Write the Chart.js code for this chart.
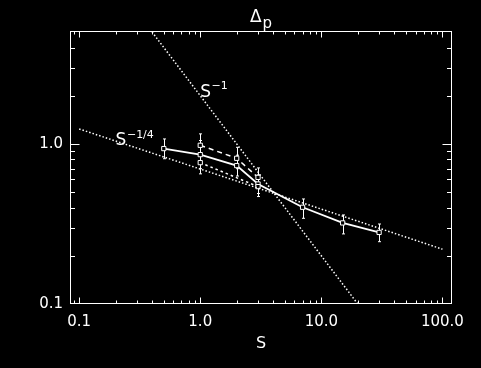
<!DOCTYPE html>
<html><head><meta charset="utf-8">
<script src="https://cdn.jsdelivr.net/npm/chart.js@4/dist/chart.umd.min.js"></script>
<style>html,body{margin:0;padding:0;background:#000;}canvas{display:block;}</style>
</head><body>
<canvas id="c" width="481" height="368"></canvas>
<script>
// ---- data ----
const sAll = [0.5, 1, 2, 3, 7, 15, 30];
const deltaAll = [0.935, 0.857, 0.732, 0.562, 0.402, 0.321, 0.280];
const deltaAllLo = [0.808, 0.70, 0.63, 0.49, 0.343, 0.274, 0.245];
const deltaAllHi = [1.074, 1.05, 0.85, 0.64, 0.453, 0.360, 0.316];

const sUpper = [1, 2, 3];
const deltaUpper = [0.98, 0.813, 0.618];
const deltaUpperLo = [0.86, 0.70, 0.53];
const deltaUpperHi = [1.155, 0.952, 0.708];

const sLower = [1, 3];
const deltaLower = [0.764, 0.541];
const deltaLowerLo = [0.65, 0.469];
const deltaLowerHi = [0.88, 0.62];

const sSlope1 = [0.4, 20];
const deltaSlope1 = [5.0, 0.1];
const sSlopeQ = [0.1, 100];
const deltaSlopeQ = [1.24, 0.22];

const xMajorTicks = [0.1, 1, 10, 100];
const xTickLabels = ['0.1', '1.0', '10.0', '100.0'];
const xMinorTicks = [0.09, 0.2, 0.3, 0.4, 0.5, 0.6, 0.7, 0.8, 0.9, 2, 3, 4, 5, 6, 7, 8, 9, 20, 30, 40, 50, 60, 70, 80, 90];
const yMajorTicks = [0.1, 1];
const yTickLabels = ['0.1', '1.0'];
const yMinorTicks = [0.2, 0.3, 0.4, 0.5, 0.6, 0.7, 0.8, 0.9, 2, 3, 4];

const titleMain = 'Δ';
const titleSub = 'p';
const xTitle = 'S';
const annotSlope1 = {base: 'S', sup: '−1', s: 1.0, d: 1.97};
const annotSlopeQ = {base: 'S', sup: '−1/4', s: 0.2, d: 0.99};

const pts = (xs, ys) => xs.map((v, i) => ({x: v, y: ys[i]}));

Chart.defaults.font.family = '"DejaVu Sans", sans-serif';
Chart.defaults.color = '#fff';

const W = '#ffffff';

const decor = {
  id: 'decor',
  beforeDraw(chart) {
    const c = chart.ctx;
    c.save(); c.fillStyle = '#000'; c.fillRect(0, 0, chart.width, chart.height); c.restore();
  },
  beforeDatasetsDraw(chart) {
    const {ctx, scales: {x, y}} = chart;
    ctx.save();
    ctx.strokeStyle = W; ctx.lineWidth = 1;
    chart.data.datasets.forEach(ds => {
      if (!ds.errLo) return;
      ds.data.forEach((p, i) => {
        const px = Math.round(x.getPixelForValue(p.x)) + 0.5;
        const yl = y.getPixelForValue(ds.errLo[i]);
        const yh = y.getPixelForValue(ds.errHi[i]);
        ctx.beginPath();
        ctx.moveTo(px, yl); ctx.lineTo(px, yh);
        ctx.moveTo(px - 1.5, yl); ctx.lineTo(px + 1.5, yl);
        ctx.moveTo(px - 1.5, yh); ctx.lineTo(px + 1.5, yh);
        ctx.stroke();
      });
    });
    ctx.restore();
  },
  afterDraw(chart) {
    const {ctx, chartArea: a, scales: {x, y}} = chart;
    ctx.save();
    ctx.strokeStyle = W; ctx.fillStyle = W; ctx.lineWidth = 1;
    const L = Math.round(a.left) + 0.5, R = Math.round(a.right) - 0.5;
    const T = Math.round(a.top) - 0.5, B = Math.round(a.bottom) - 0.5;
    ctx.strokeRect(L, T, R - L, B - T);
    ctx.beginPath();
    const xt = (vals, len) => vals.forEach(v => {
      const px = Math.round(x.getPixelForValue(v)) + 0.5;
      if (px < L || px > R) return;
      ctx.moveTo(px, B); ctx.lineTo(px, B - len);
      ctx.moveTo(px, T); ctx.lineTo(px, T + len);
    });
    const yt = (vals, len) => vals.forEach(v => {
      const py = Math.round(y.getPixelForValue(v)) + 0.5;
      if (py < T || py > B) return;
      ctx.moveTo(L, py); ctx.lineTo(L + len, py);
      ctx.moveTo(R, py); ctx.lineTo(R - len, py);
    });
    xt(xMajorTicks, 6); xt(xMinorTicks, 3);
    yt(yMajorTicks, 9); yt(yMinorTicks, 4.5);
    ctx.stroke();

    // title
    const cx = (a.left + a.right) / 2;
    ctx.textAlign = 'left'; ctx.textBaseline = 'alphabetic';
    ctx.font = '17px "DejaVu Sans"';
    ctx.fillText(titleMain, cx - 11, 22);
    ctx.font = '15px "DejaVu Sans"';
    ctx.fillText(titleSub, cx + 1.5, 28);

    // annotations
    const annot = (an, rise) => {
      const px = x.getPixelForValue(an.s), py = y.getPixelForValue(an.d);
      ctx.font = '17px "DejaVu Sans"';
      ctx.fillText(an.base, px, py);
      const w = ctx.measureText(an.base).width;
      ctx.font = '11px "DejaVu Sans"';
      ctx.fillText(an.sup, px + w + 0.5, py - rise);
    };
    annot(annotSlope1, 8);
    annot(annotSlopeQ, 6.5);
    ctx.restore();
  }
};

const dot = [1.5, 2];

new Chart(document.getElementById('c'), {
  type: 'scatter',
  data: {
    datasets: [
      {data: pts(sSlope1, deltaSlope1), showLine: true, borderColor: W, borderWidth: 1.5, borderDash: dot, pointRadius: 0},
      {data: pts(sSlopeQ, deltaSlopeQ), showLine: true, borderColor: W, borderWidth: 1.5, borderDash: dot, pointRadius: 0},
      {data: pts(sLower, deltaLower), errLo: deltaLowerLo, errHi: deltaLowerHi, showLine: true, borderColor: W, borderWidth: 1.5, borderDash: [2.5, 3],
        pointStyle: 'rect', pointRadius: 3, pointBorderWidth: 1, pointBorderColor: W, pointBackgroundColor: '#000'},
      {data: pts(sUpper, deltaUpper), errLo: deltaUpperLo, errHi: deltaUpperHi, showLine: true, borderColor: W, borderWidth: 1.5, borderDash: [5, 4],
        pointStyle: 'rect', pointRadius: 3, pointBorderWidth: 1, pointBorderColor: W, pointBackgroundColor: '#000'},
      {data: pts(sAll, deltaAll), errLo: deltaAllLo, errHi: deltaAllHi, showLine: true, borderColor: W, borderWidth: 1.8,
        pointStyle: 'rect', pointRadius: 3, pointBorderWidth: 1, pointBorderColor: W, pointBackgroundColor: '#000'}
    ]
  },
  options: {
    responsive: false,
    animation: false,
    devicePixelRatio: 1,
    layout: {padding: {left: 0, right: 29, top: 32, bottom: 0}},
    plugins: {legend: {display: false}, tooltip: {enabled: false}},
    scales: {
      x: {
        type: 'logarithmic', position: 'bottom', min: 0.084, max: 120,
        grid: {display: false, drawTicks: false}, border: {display: false},
        afterBuildTicks: s => { s.ticks = xMajorTicks.map(v => ({value: v})); },
        afterFit: s => { s.height = 64; },
        ticks: {color: W, font: {size: 15}, padding: 9, autoSkip: false, maxRotation: 0,
          callback: (v, i) => xTickLabels[i]},
        title: {display: true, text: xTitle, color: W, font: {size: 16}, padding: {top: 0, bottom: 15}}
      },
      y: {
        type: 'logarithmic', position: 'left', min: 0.1, max: 5,
        grid: {display: false, drawTicks: false}, border: {display: false},
        afterBuildTicks: s => { s.ticks = yMajorTicks.map(v => ({value: v})); },
        afterFit: s => { s.width = 70; },
        ticks: {color: W, font: {size: 15}, padding: 7, autoSkip: false,
          callback: (v, i) => yTickLabels[i]}
      }
    }
  },
  plugins: [decor]
});
</script>
</body></html>
